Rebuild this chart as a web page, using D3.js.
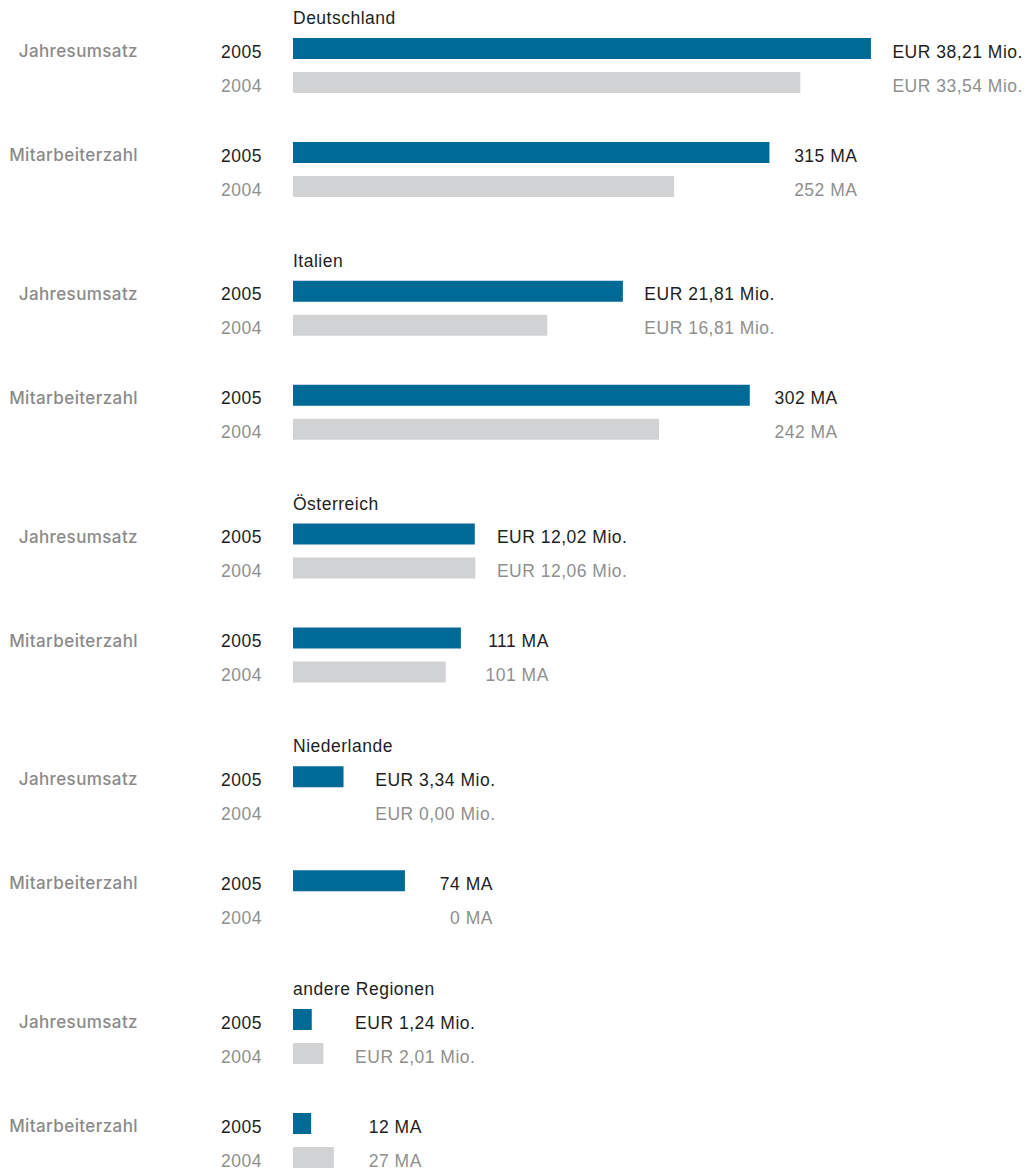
<!DOCTYPE html>
<html>
<head>
<meta charset="utf-8">
<script src="https://cdn.jsdelivr.net/npm/d3@7"></script>
<style>
  html, body { margin: 0; padding: 0; background: #fff; }
  svg { display: block; }
  text { font-family: "Liberation Sans", Arial, Helvetica, sans-serif; font-size: 17.5px; letter-spacing: 0.5px; }
  text.metric { font-family: Inter, "Liberation Sans", sans-serif; font-weight: 500; font-size: 17px; letter-spacing: 0.4px; }
</style>
</head>
<body>
<svg id="chart" width="1027" height="1171"></svg>
<script>
// ---- data ----
const regions = ["Deutschland", "Italien", "Österreich", "Niederlande", "andere Regionen"];
const years = ["2005", "2004"];
const metricLabels = ["Jahresumsatz", "Mitarbeiterzahl"];
const revenue2005 = [38.21, 21.81, 12.02, 3.34, 1.24];   // EUR Mio.
const revenue2004 = [33.54, 16.81, 12.06, 0.00, 2.01];   // EUR Mio.
const staff2005 = [315, 302, 111, 74, 12];               // MA
const staff2004 = [252, 242, 101, 0, 27];                // MA

// ---- layout ----
const barX0 = 293, barH = 21;
const colors = { "2005": "#006a96", "2004": "#d1d2d4" };
const textColors = { "2005": "#1e1e1e", "2004": "#8f8f8f" };
const labelColor = "#8a8a8a";

const locale = d3.formatLocale({ decimal: ",", thousands: ".", grouping: [3], currency: ["", " EUR"] });
const fmtRev = v => "EUR " + locale.format(".2f")(v) + " Mio.";
const fmtStaff = v => locale.format("d")(v) + " MA";

const metrics = [
  { label: metricLabels[0], v2005: revenue2005, v2004: revenue2004, scale: d3.scaleLinear().domain([0, 40]).range([barX0, barX0 + 605]), fmt: fmtRev, field: 152, offset: 38 },
  { label: metricLabels[1], v2005: staff2005, v2004: staff2004, scale: d3.scaleLinear().domain([0, 400]).range([barX0, barX0 + 605]), fmt: fmtStaff, field: 88, offset: 142 }
];

const yGroup = d3.scaleLinear().domain([0, regions.length - 1]).range([0, 971]);
const yRow = d3.scalePoint().domain(years).range([0, 34]);

const svg = d3.select("#chart");

regions.forEach((region, i) => {
  const g = svg.append("g").attr("transform", `translate(0,${yGroup(i)})`);
  g.append("text").attr("x", barX0).attr("y", 24).attr("fill", "#1e1e1e").text(region);

  metrics.forEach(m => {
    const mg = g.append("g").attr("transform", `translate(0,${m.offset})`);
    const rows = years.map(y => ({ year: y, value: (y === "2005" ? m.v2005 : m.v2004)[i] }));
    const maxEnd = d3.max(rows, d => m.scale(d.value));

    mg.append("text")
      .attr("class", "metric")
      .attr("x", 138).attr("y", yRow("2005") + barH - 2)
      .attr("text-anchor", "end").attr("fill", labelColor)
      .text(m.label);

    const row = mg.selectAll("g.row").data(rows).join("g").attr("class", "row")
      .attr("transform", d => `translate(0,${yRow(d.year)})`);

    row.append("text")
      .attr("x", 262).attr("y", barH - 1.5)
      .attr("text-anchor", "end").attr("fill", d => textColors[d.year])
      .text(d => d.year);

    row.append("rect")
      .attr("x", m.scale(0)).attr("y", 0)
      .attr("width", d => m.scale(d.value) - m.scale(0))
      .attr("height", barH)
      .attr("fill", d => colors[d.year]);

    row.append("text")
      .attr("x", maxEnd + m.field).attr("y", barH - 1.5)
      .attr("text-anchor", "end").attr("fill", d => textColors[d.year])
      .text(d => m.fmt(d.value));
  });
});
</script>
</body>
</html>
